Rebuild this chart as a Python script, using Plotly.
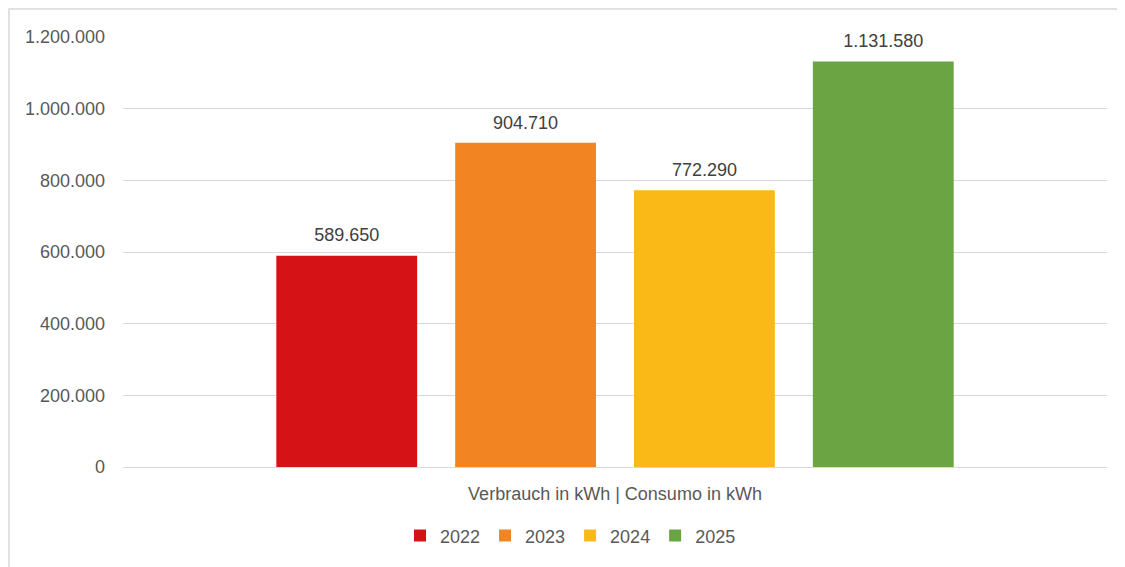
import plotly.graph_objects as go

category = ["Verbrauch in kWh | Consumo in kWh"]
years = ["2022", "2023", "2024", "2025"]
values = [589650, 904710, 772290, 1131580]
colors = ["#D51317", "#F28522", "#FBB917", "#6BA443"]
y_ticks = [0, 200000, 400000, 600000, 800000, 1000000, 1200000]
y_ticklabels = ["0", "200.000", "400.000", "600.000", "800.000", "1.000.000", "1.200.000"]

FONT = "Liberation Sans, Arial"
FS = 18

def fmt(v):
    return f"{v:,}".replace(",", ".")

fig = go.Figure()
for yr, v, c in zip(years, values, colors):
    fig.add_trace(go.Bar(
        x=category, y=[v], name=yr, offsetgroup=yr,
        marker=dict(color=c, line=dict(width=0)),
    ))
for yr, v in zip(years, values):
    fig.add_trace(go.Scatter(
        x=category, y=[v], offsetgroup=yr, mode="markers+text",
        marker=dict(size=14, color="rgba(0,0,0,0)"),
        text=[fmt(v)], textposition="top center",
        textfont=dict(size=FS, color="#404040", family=FONT),
        showlegend=False, cliponaxis=False, hoverinfo="skip",
    ))

fig.update_layout(
    width=1125, height=567,
    paper_bgcolor="white", plot_bgcolor="white",
    margin=dict(l=115, r=26, t=29, b=108),
    barmode="group", bargap=0.273, bargroupgap=0.2126,
    scattermode="group", scattergap=0.273,
    font=dict(family=FONT, size=FS, color="#595959"),
    showlegend=True,
    legend=dict(orientation="h", xref="container", yref="container",
                x=0.500, xanchor="center", y=0.069, yanchor="middle",
                font=dict(size=FS, color="#595959"),
                traceorder="normal"),
    xaxis=dict(showgrid=False, showline=False, ticks="", automargin=False,
               ticklabelstandoff=14, tickfont=dict(size=FS, color="#595959")),
    yaxis=dict(range=[0, 1200000], tickvals=y_ticks, ticktext=y_ticklabels,
               showgrid=True, gridcolor="#D9D9D9", gridwidth=1.3,
               zeroline=True, zerolinecolor="#D9D9D9", zerolinewidth=1.3,
               showline=False, ticks="", ticklabelstandoff=17, automargin=False,
               tickfont=dict(size=FS, color="#595959")),
    shapes=[dict(type="rect", xref="paper", yref="paper",
                 x0=-0.1159, x1=1.1, y0=-0.4, y1=1.0651,
                 line=dict(color="#D9D9D9", width=1.5), fillcolor="rgba(0,0,0,0)",
                 layer="below")],
)

fig.write_html("out.html")
